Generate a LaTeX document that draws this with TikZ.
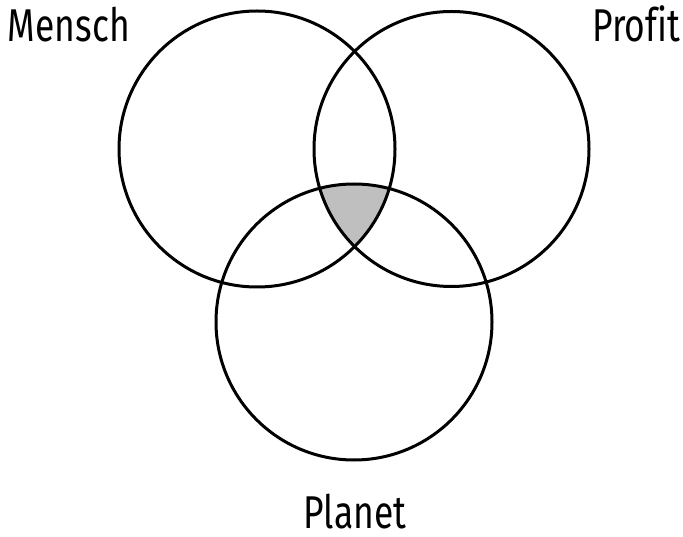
\documentclass[tikz,border=0pt]{standalone}
\usepackage{fontspec}
\setmainfont{Fira Sans}[Ligatures=NoCommon]
\begin{document}
\begin{tikzpicture}[x=1pt,y=-1pt,
  ring/.style={draw=black,line width=3pt},
  lbl/.style={inner sep=0pt,outer sep=0pt,text depth=0pt,font=\fontsize{46}{50}\selectfont}]
\useasboundingbox (0,0) rectangle (683,537);
\begin{scope}
  \clip (257,149) circle (138);
  \clip (451.5,149) circle (137.5);
  \fill[gray!50] (354,322) circle (138);
\end{scope}
\node[ring,circle,minimum size=276pt,inner sep=0pt] (mensch) at (257,149) {};
\node[ring,circle,minimum size=275pt,inner sep=0pt] (profit) at (451.5,149) {};
\node[ring,circle,minimum size=276pt,inner sep=0pt] (planet) at (354,322) {};
\node[lbl,anchor=base west] (tm) at (8,42) {\scalebox{0.77}[1]{Mensch}};
\node[lbl,anchor=base east] (tp) at (680,42) {\scalebox{0.77}[1]{Profit}};
\node[lbl,anchor=base] (tl) at (355,528) {\scalebox{0.77}[1]{Planet}};
\end{tikzpicture}
\end{document}
